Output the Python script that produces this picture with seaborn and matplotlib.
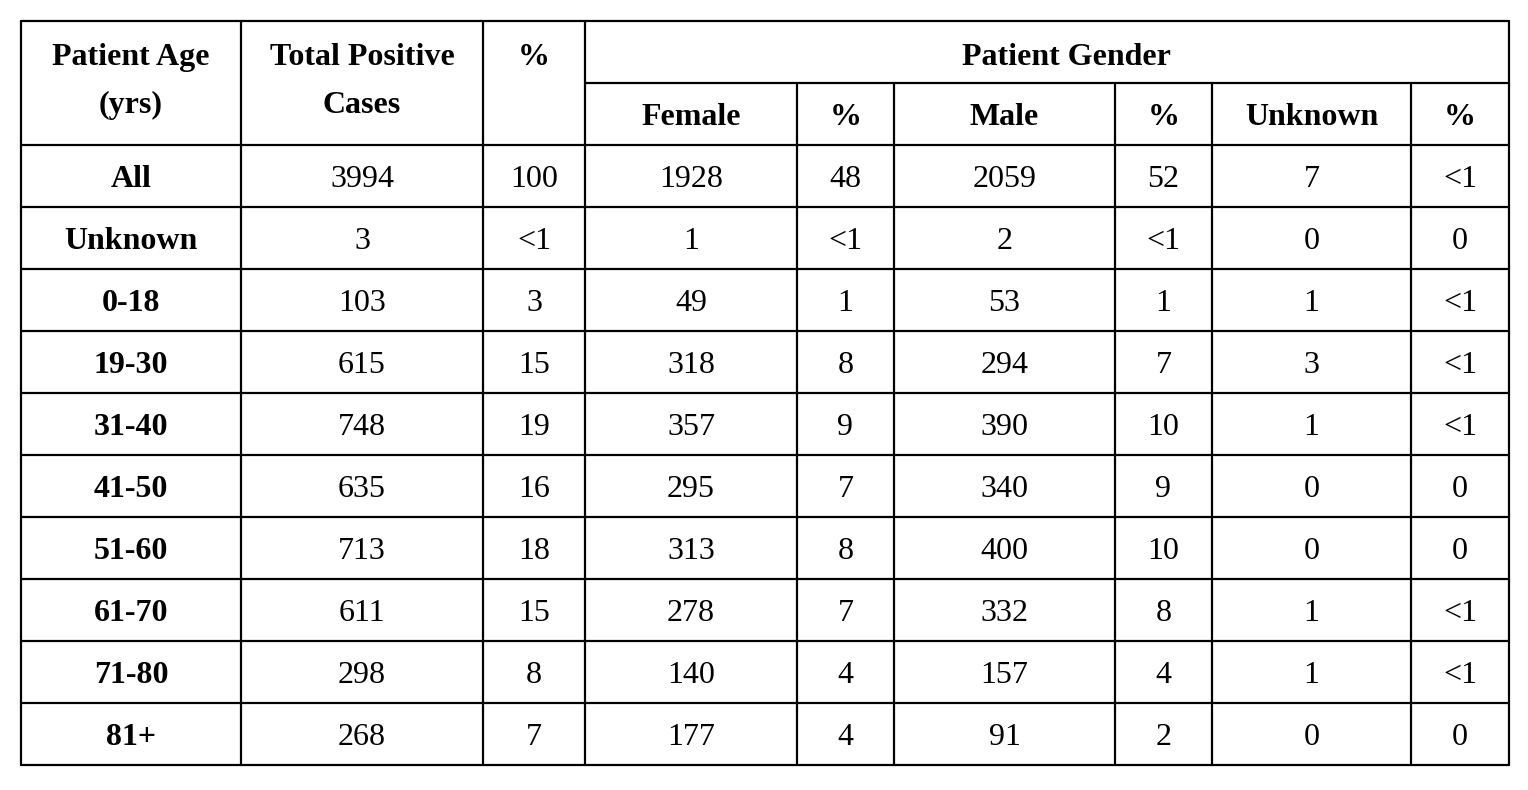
import matplotlib
matplotlib.use("Agg")
import matplotlib.pyplot as plt
import seaborn as sns
import pandas as pd

# table data
age_groups = ["All", "Unknown", "0-18", "19-30", "31-40", "41-50",
              "51-60", "61-70", "71-80", "81+"]
total_cases = [3994, 3, 103, 615, 748, 635, 713, 611, 298, 268]
total_pct = ["100", "<1", "3", "15", "19", "16", "18", "15", "8", "7"]
female = [1928, 1, 49, 318, 357, 295, 313, 278, 140, 177]
female_pct = ["48", "<1", "1", "8", "9", "7", "8", "7", "4", "4"]
male = [2059, 2, 53, 294, 390, 340, 400, 332, 157, 91]
male_pct = ["52", "<1", "1", "7", "10", "9", "10", "8", "4", "2"]
unknown = [7, 0, 1, 3, 1, 0, 0, 1, 1, 0]
unknown_pct = ["<1", "0", "<1", "<1", "<1", "0", "0", "<1", "<1", "0"]

top_headers = [["Patient Age", "(yrs)"], ["Total Positive", "Cases"], ["%"]]
group_header = "Patient Gender"
sub_headers = ["Female", "%", "Male", "%", "Unknown", "%"]

df = pd.DataFrame({
    "age": age_groups,
    "total": total_cases, "total_pct": total_pct,
    "female": female, "female_pct": female_pct,
    "male": male, "male_pct": male_pct,
    "unknown": unknown, "unknown_pct": unknown_pct,
})

sns.set_style("white")
plt.rcParams['font.family'] = ['Liberation Serif', 'DejaVu Serif']
plt.rcParams['text.color'] = 'black'

# layout (pixels)
col_edges = [21, 241, 483, 585, 797, 894, 1115, 1212, 1411, 1509]
top, sub_line, head_bottom, row_h = 21, 83, 145, 62
n_rows = len(df)
bottom = head_bottom + row_h * n_rows
fs = 23
lw = 1.6

fig = plt.figure(figsize=(15.28, 7.90), dpi=100)
ax = fig.add_axes([0, 0, 1, 1])
ax.set_xlim(0, 1528)
ax.set_ylim(790, 0)
ax.axis("off")

# grid lines
left, right = col_edges[0], col_edges[-1]
ax.plot([left, right], [top, top], color="black", lw=lw)
ax.plot([col_edges[3], right], [sub_line, sub_line], color="black", lw=lw)
for i in range(n_rows + 1):
    y = head_bottom + i * row_h
    ax.plot([left, right], [y, y], color="black", lw=lw)
for j, x in enumerate(col_edges):
    y0 = top if j <= 3 or j == len(col_edges) - 1 else sub_line
    ax.plot([x, x], [y0, bottom], color="black", lw=lw)

centers = [(col_edges[k] + col_edges[k + 1]) / 2 for k in range(len(col_edges) - 1)]

# headers
for k, lines in enumerate(top_headers):
    for li, txt in enumerate(lines):
        ax.text(centers[k], 65 + li * 48, txt, ha="center", va="baseline",
                fontsize=fs, fontweight="bold", color="black")
ax.text(1066, 65, group_header, ha="center", va="baseline",
        fontsize=fs, fontweight="bold", color="black")
for k, txt in enumerate(sub_headers):
    ax.text(centers[k + 3], 125, txt, ha="center", va="baseline",
            fontsize=fs, fontweight="bold", color="black")

# body
cols = ["age", "total", "total_pct", "female", "female_pct",
        "male", "male_pct", "unknown", "unknown_pct"]
for i, row in df.iterrows():
    yb = head_bottom + i * row_h + 42
    for k, c in enumerate(cols):
        ax.text(centers[k], yb, str(row[c]), ha="center", va="baseline",
                fontsize=fs, fontweight="bold" if k == 0 else "normal",
                color="black")

fig.savefig("out.png", dpi=100, facecolor="white")
plt.close(fig)
